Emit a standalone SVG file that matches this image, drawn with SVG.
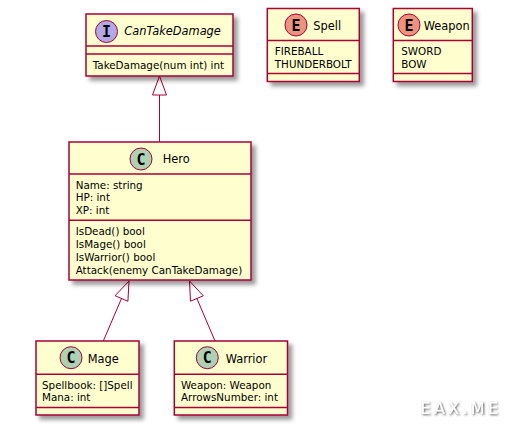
<svg xmlns="http://www.w3.org/2000/svg" width="512" height="424" viewBox="0 0 512 424">
<defs>
<filter id="sh" x="-10%" y="-10%" width="130%" height="130%">
<feGaussianBlur in="SourceAlpha" stdDeviation="2" result="b"/>
<feColorMatrix in="b" type="matrix" values="0 0 0 0 0  0 0 0 0 0  0 0 0 0 0  0 0 0 .4 0" result="c"/>
<feOffset in="c" dx="4" dy="4" result="o"/>
<feBlend in="SourceGraphic" in2="o" mode="normal"/>
</filter>
<filter id="wm" x="-10%" y="-30%" width="120%" height="160%">
<feDropShadow dx="1" dy="1" stdDeviation="1" flood-color="#333" flood-opacity="0.9"/>
</filter>
</defs>
<style>
.box{fill:#FEFECE;stroke:#A80036;stroke-width:1.5}
.div{stroke:#A80036;stroke-width:1.5}
.name{font-family:"DejaVu Sans",sans-serif;font-size:11.4px;fill:#000}
.mem{font-family:"DejaVu Sans",sans-serif;font-size:10.35px;fill:#000}
.spot{stroke:#A80036;stroke-width:1}
.letter{font-family:"DejaVu Sans Mono",monospace;font-weight:bold;font-size:15px;text-anchor:middle;fill:#000}
.edge{stroke:#A80036;stroke-width:1;fill:none}
.wm{font-family:"DejaVu Sans",sans-serif;font-size:16px;letter-spacing:3.3px;fill:#fff}
</style>
<rect width="512" height="424" fill="#fff"/>

<g id="connectors">
<line class="edge" x1="159.5" y1="142" x2="159.5" y2="95"/>
<polygon class="edge" points="159.5,76 152.5,95 166.5,95"/>
<line class="edge" x1="103.3" y1="341" x2="121.5" y2="298.5"/>
<polygon class="edge" points="129,281 115.1,295.7 127.9,301.3"/>
<line class="edge" x1="215" y1="341" x2="196.9" y2="298.5"/>
<polygon class="edge" points="189.5,281 203.3,295.8 190.5,301.2"/>
</g>

<g id="CanTakeDamage">
<rect class="box" x="86" y="14" width="147" height="62" filter="url(#sh)"/>
<line class="div" x1="86" y1="46" x2="233" y2="46"/>
<line class="div" x1="86" y1="54" x2="233" y2="54"/>
<circle class="spot" cx="106.5" cy="31.5" r="11" fill="#B4A7E5"/>
<text class="letter" x="106.5" y="37">I</text>
<text class="name" x="124.3" y="35" font-style="italic">CanTakeDamage</text>
<text class="mem" x="92.7" y="69">TakeDamage(num int) int</text>
</g>

<g id="Spell">
<rect class="box" x="267.3" y="8.5" width="92" height="73" filter="url(#sh)"/>
<line class="div" x1="267.3" y1="40.5" x2="359.3" y2="40.5"/>
<line class="div" x1="267.3" y1="73.5" x2="359.3" y2="73.5"/>
<circle class="spot" cx="296" cy="25" r="11" fill="#EB937F"/>
<text class="letter" x="296" y="30.5">E</text>
<text class="name" x="313.3" y="29.5">Spell</text>
<text class="mem" x="274.8" y="55">FIREBALL</text>
<text class="mem" x="274.8" y="67.9">THUNDERBOLT</text>
</g>

<g id="Weapon">
<rect class="box" x="393.3" y="8.5" width="79" height="73" filter="url(#sh)"/>
<line class="div" x1="393.3" y1="40.5" x2="472.3" y2="40.5"/>
<line class="div" x1="393.3" y1="73.5" x2="472.3" y2="73.5"/>
<circle class="spot" cx="409" cy="25" r="11" fill="#EB937F"/>
<text class="letter" x="409" y="30.5">E</text>
<text class="name" x="423.7" y="29.5">Weapon</text>
<text class="mem" x="401.3" y="55">SWORD</text>
<text class="mem" x="401.3" y="67.9">BOW</text>
</g>

<g id="Hero">
<rect class="box" x="69" y="142" width="182" height="138" filter="url(#sh)"/>
<line class="div" x1="69" y1="174" x2="251" y2="174"/>
<line class="div" x1="69" y1="220.3" x2="251" y2="220.3"/>
<circle class="spot" cx="141" cy="159" r="11" fill="#ADD1B2"/>
<text class="letter" x="141" y="164.5">C</text>
<text class="name" x="162.7" y="163">Hero</text>
<text class="mem" x="75.7" y="188.5">Name: string</text>
<text class="mem" x="75.7" y="201.45">HP: int</text>
<text class="mem" x="75.7" y="214.4">XP: int</text>
<text class="mem" x="75.7" y="234.8">IsDead() bool</text>
<text class="mem" x="75.7" y="247.75">IsMage() bool</text>
<text class="mem" x="75.7" y="260.7">IsWarrior() bool</text>
<text class="mem" x="75.7" y="273.65">Attack(enemy CanTakeDamage)</text>
</g>

<g id="Mage">
<rect class="box" x="36" y="341" width="103" height="74" filter="url(#sh)"/>
<line class="div" x1="36" y1="374.3" x2="139" y2="374.3"/>
<line class="div" x1="36" y1="407.5" x2="139" y2="407.5"/>
<circle class="spot" cx="71" cy="357.7" r="11" fill="#ADD1B2"/>
<text class="letter" x="71" y="363.2">C</text>
<text class="name" x="87.7" y="362.5">Mage</text>
<text class="mem" x="42" y="388.5">Spellbook: []Spell</text>
<text class="mem" x="42" y="401.4">Mana: int</text>
</g>

<g id="Warrior">
<rect class="box" x="174.3" y="341" width="113.2" height="74" filter="url(#sh)"/>
<line class="div" x1="174.3" y1="374.3" x2="287.5" y2="374.3"/>
<line class="div" x1="174.3" y1="407.5" x2="287.5" y2="407.5"/>
<circle class="spot" cx="207.3" cy="357.7" r="11" fill="#ADD1B2"/>
<text class="letter" x="207.3" y="363.2">C</text>
<text class="name" x="225.7" y="362.5">Warrior</text>
<text class="mem" x="181" y="388.5">Weapon: Weapon</text>
<text class="mem" x="181" y="401.4">ArrowsNumber: int</text>
</g>

<text class="wm" x="420.5" y="413.5" filter="url(#wm)">EAX.ME</text>
</svg>
